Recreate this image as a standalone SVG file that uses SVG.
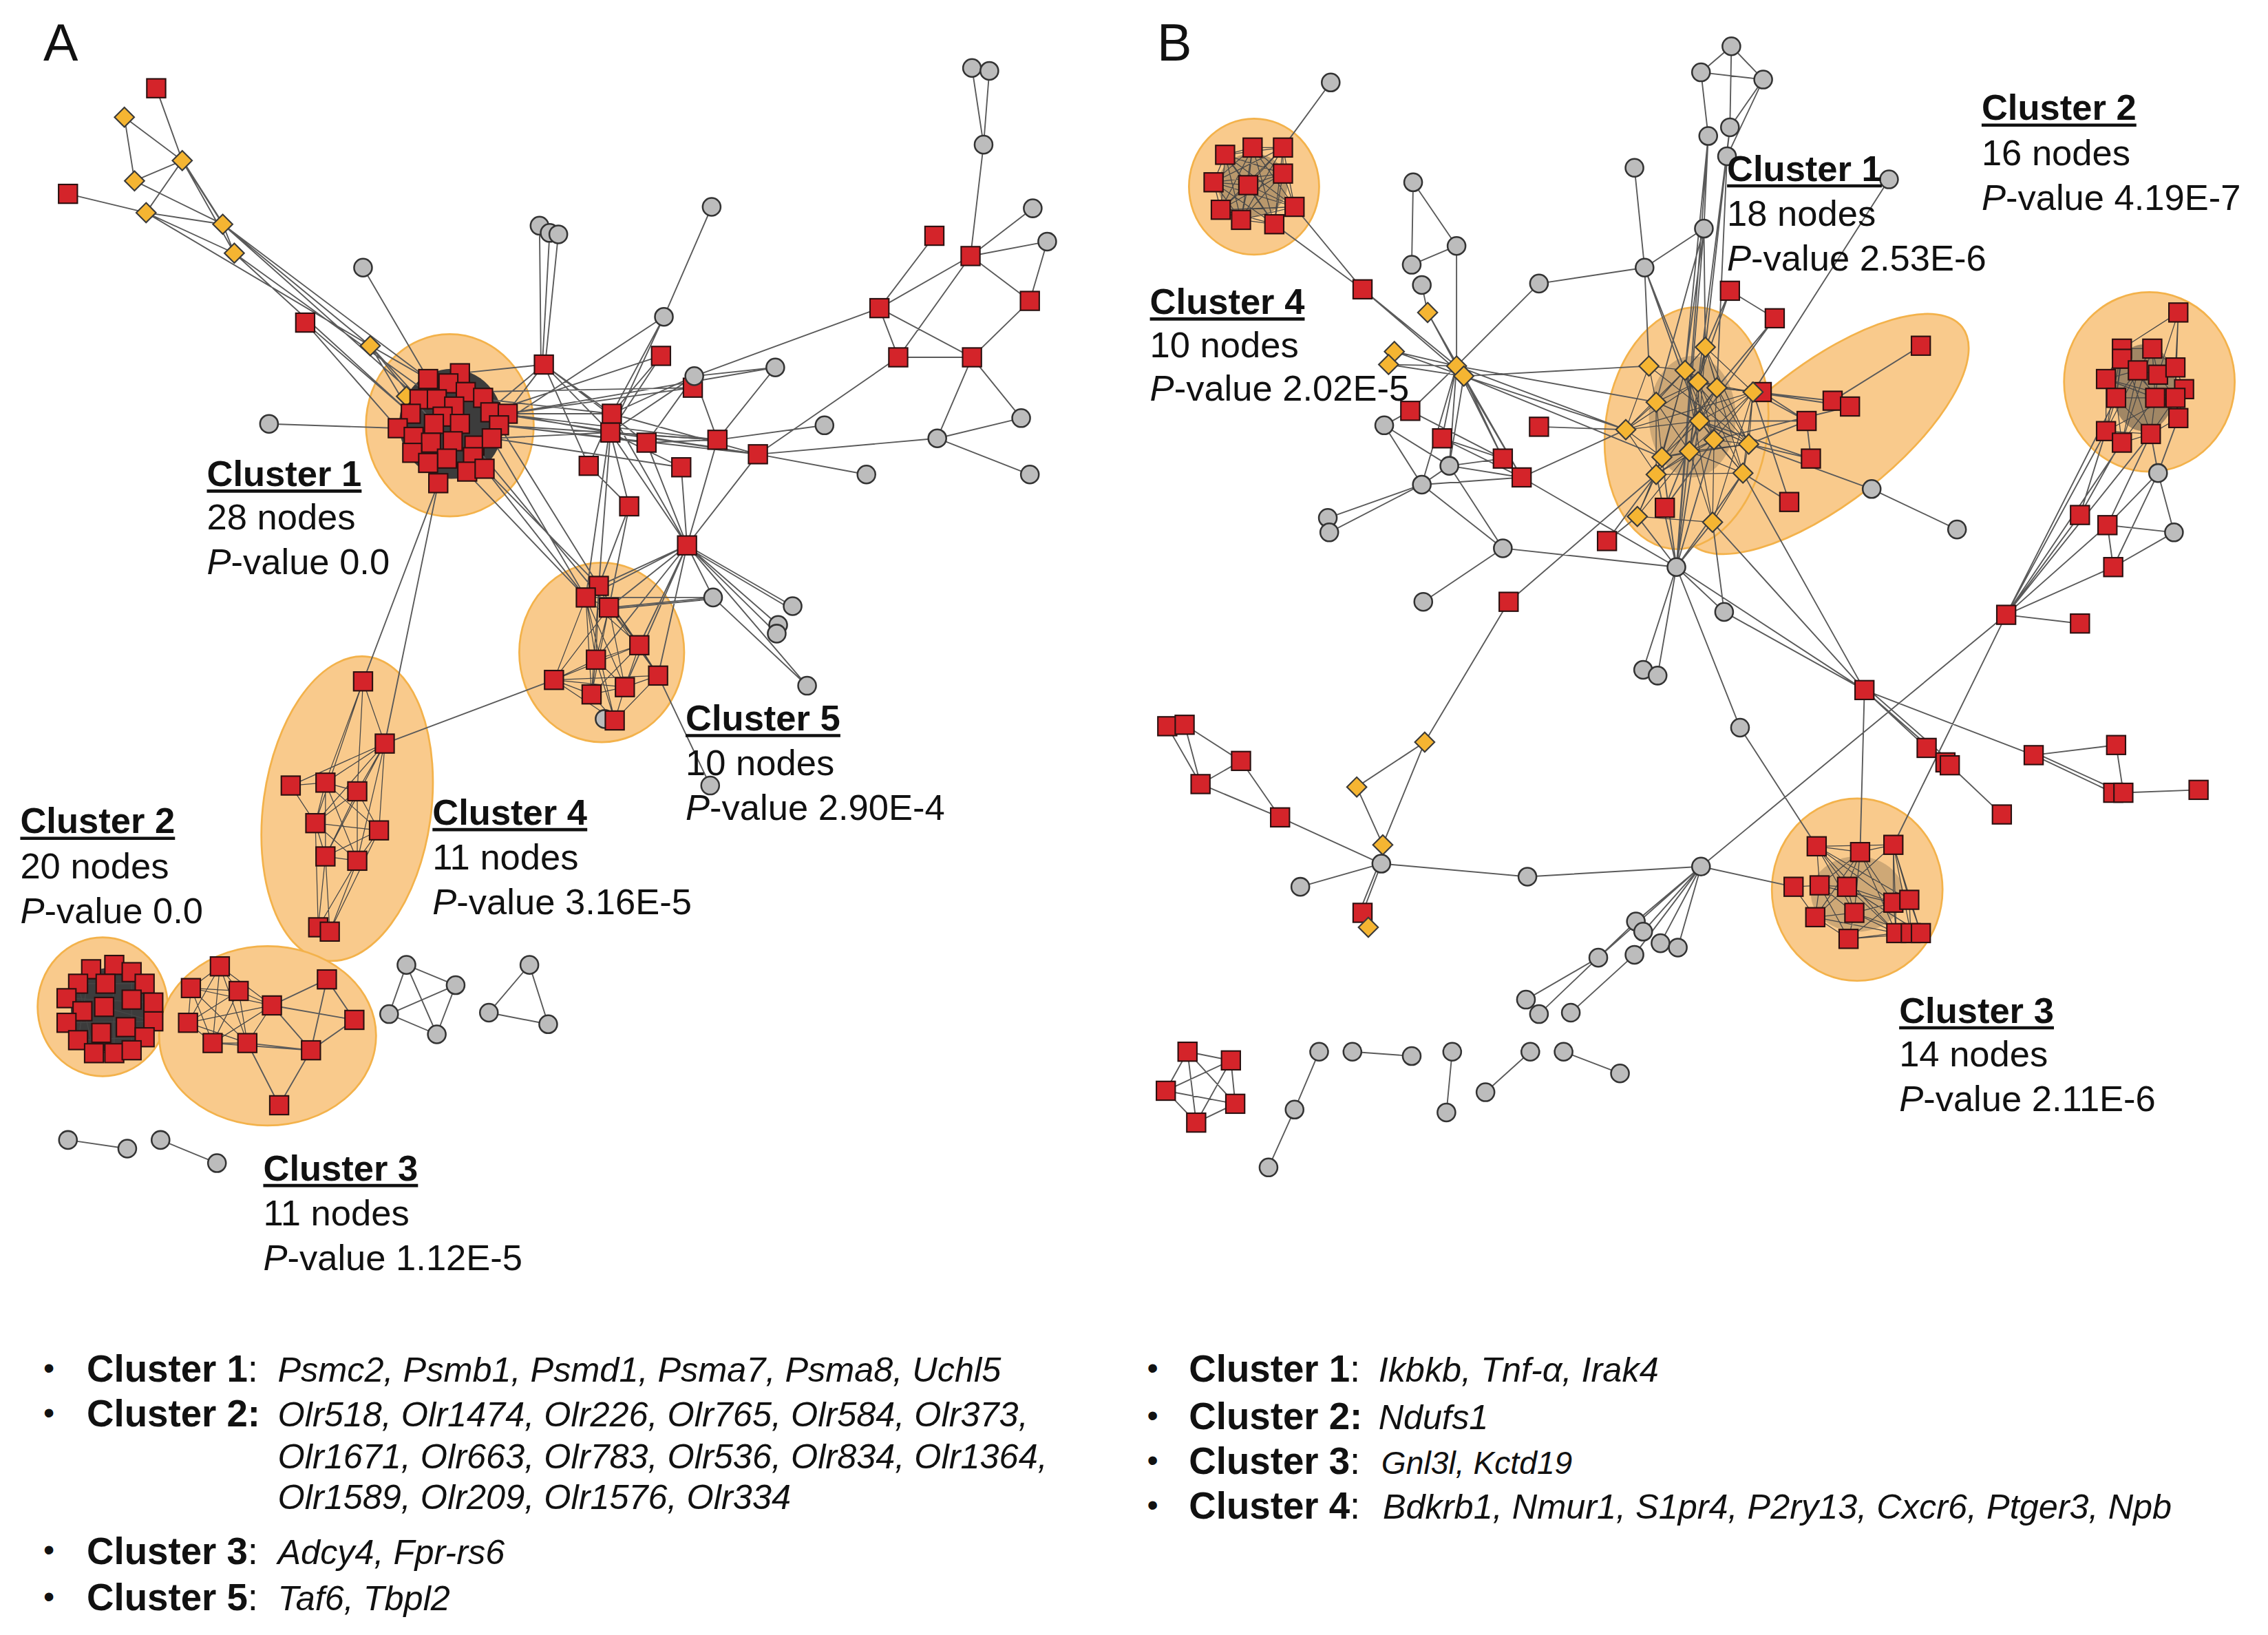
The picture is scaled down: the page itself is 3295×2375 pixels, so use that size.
<svg xmlns="http://www.w3.org/2000/svg" xmlns:xlink="http://www.w3.org/1999/xlink" width="3295" height="2375" viewBox="0 0 3295 2375">
<style>
.hl{fill:#f9ca8c;stroke:#f3b24b;stroke-width:1.3}
.e{stroke:#5a5a5a;stroke-width:0.9;fill:none;stroke-linecap:round}
.ed{stroke:#474747;stroke-width:0.6;fill:none}
.t{font-family:"Liberation Sans",Arial,sans-serif;font-size:25px;fill:#111}
.tb{font-family:"Liberation Sans",Arial,sans-serif;font-size:25px;font-weight:bold;fill:#111}
.ul{stroke:#111;stroke-width:2.2}
.lb{font-family:"Liberation Sans",Arial,sans-serif;font-size:26px;font-weight:bold;fill:#111}
.li{font-family:"Liberation Sans",Arial,sans-serif;font-size:24px;font-style:italic;fill:#111}
.bu{font-family:"Liberation Sans",Arial,sans-serif;font-size:22px;fill:#111}
</style>
<defs>
<rect id="s" x="-6.5" y="-6.5" width="13" height="13" fill="#d4242a" stroke="#2b1010" stroke-width="1"/>
<circle id="c" r="6.2" fill="#bcbcbc" stroke="#333" stroke-width="1.2"/>
<path id="d" d="M0,-6.8 L6.8,0 L0,6.8 L-6.8,0 Z" fill="#f5b532" stroke="#3a3a3a" stroke-width="1"/>
</defs>
<rect width="3295" height="2375" fill="#fff"/>
<g transform="scale(2.1014)">
<g id="hulls">
<ellipse class="hl" cx="311" cy="294" rx="58" ry="63"/>
<ellipse class="hl" cx="416" cy="451" rx="57" ry="62"/>
<ellipse class="hl" cx="240" cy="559" rx="58" ry="106" transform="rotate(8 240 559)"/>
<ellipse class="hl" cx="71" cy="696" rx="45" ry="48"/>
<ellipse class="hl" cx="185" cy="716" rx="75" ry="62"/>
<ellipse class="hl" cx="867" cy="129" rx="45" ry="47"/>
<ellipse class="hl" cx="1262" cy="300" rx="120" ry="48" transform="rotate(-38 1262 300)"/>
<ellipse class="hl" cx="1166" cy="296" rx="56" ry="84" transform="rotate(8 1166 296)"/>
<ellipse cx="1166" cy="296" rx="55" ry="83" transform="rotate(8 1166 296)" fill="#f9ca8c"/>
<ellipse class="hl" cx="1486" cy="264" rx="59" ry="62"/>
<ellipse class="hl" cx="1284" cy="615" rx="59" ry="63"/>
<ellipse cx="312" cy="293" rx="36" ry="38" fill="#3c3c3c"/>
<ellipse cx="76" cy="698" rx="27" ry="29" fill="#3c3c3c"/>
<ellipse cx="1482" cy="268" rx="22" ry="30" fill="#5a5045" opacity="0.55"/>
<ellipse cx="866" cy="128" rx="24" ry="22" fill="#6b5a44" opacity="0.45"/>
<ellipse cx="1170" cy="288" rx="30" ry="42" fill="#6b5a44" opacity="0.3"/>
<ellipse cx="1284" cy="618" rx="32" ry="26" fill="#6b5a44" opacity="0.3"/>
</g>
<g id="connectors">
<path class="e" d="M108,61L126,111M86,81L126,111M86,81L93,125M93,125L126,111M126,111L101,147M126,111L154,155M127,112L155,156M93,125L154,155M47,134L101,147M101,147L154,155M101,147L162,175M154,155L162,175M126,111L162,175M154,155L296,262M154,155L290,276M162,175L302,276M162,175L284,286M101,147L256,239M154,155L256,239M256,239L296,262M256,239L290,276M256,239L300,293M256,239L284,286M211,223L284,286M211,223L275,296M251,185L296,262M186,293L275,296M373,156L374,251M380,161L375,251M386,162L377,251M376,252L338,284M376,252L350,286M376,252L318,258M376,252L423,286M376,252L422,299M376,252L447,306M376,252L407,322M350,286L423,286M350,286L422,299M345,294L447,306M338,285L496,304M345,294L524,314M350,286L479,268M338,285L457,246M340,303L471,323M345,294L459,219M350,286L536,254M340,303L422,299M335,276L423,286M338,285L524,314M345,294L496,304M322,271L479,268"/>
<path class="e" d="M672,47L680,100M684,49L680,100M680,100L671,177M671,177L714,144M671,177L724,167M724,167L712,208M671,177L712,208M671,177L608,213M646,163L608,213M608,213L621,247M608,213L672,247M671,177L621,247M621,247L672,247M712,208L672,247M672,247L648,303M672,247L706,289M648,303L706,289M648,303L712,328M648,303L524,314M621,247L524,314M608,213L480,260M480,260L536,254M536,254L496,304M492,143L459,219M459,219L423,286M459,219L422,299M457,246L423,286M457,246L422,299M480,260L423,286M480,260L422,299M480,260L447,306M480,260L496,304M496,304L570,294M524,314L599,328M423,286L524,314M422,299L524,314M422,299L496,304M447,306L496,304M423,286L407,322M422,299L435,350M422,299L471,323M447,306L475,377M422,299L475,377M407,322L435,350M471,323L475,377M496,304L475,377M524,314L475,377M423,286L475,377M422,299L414,405M423,286L405,413M435,350L414,405M435,350L421,420M475,377L414,405M475,377L405,413M475,377L421,420M475,377L442,446M475,377L412,456M475,377L455,467M475,377L432,475M475,377L493,413M475,377L548,419M476,379L547,421M475,377L538,432M475,377L537,438M475,377L558,474M493,413L405,413M493,413L421,420M493,414L421,421M493,413L558,474M455,467L491,543M322,326L405,413M335,324L405,413M335,324L414,405M340,303L405,413M328,308L421,420M345,294L414,405M303,334L251,471M303,334L266,514M266,514L383,470"/>
<path class="ed" d="M414,405L405,413M414,405L421,420M405,413L421,420M414,405L442,446M405,413L442,446M421,420L442,446M414,405L412,456M405,413L412,456M421,420L412,456M405,413L383,470M421,420L383,470M412,456L383,470M414,405L455,467M421,420L455,467M442,446L455,467M405,413L432,475M421,420L432,475M442,446L432,475M412,456L432,475M383,470L432,475M455,467L432,475M405,413L409,480M421,420L409,480M412,456L409,480M383,470L409,480M432,475L409,480M405,413L425,498M412,456L425,498M432,475L425,498M409,480L425,498M383,470L455,467M442,446L412,456M442,446L409,480M455,467L425,498M383,470L425,498M414,405L409,480M383,470L442,446"/>
<path class="ed" d="M251,471L266,514M251,471L225,541M251,471L247,547M251,471L218,569M266,514L201,543M266,514L225,541M266,514L247,547M266,514L218,569M266,514L262,574M266,514L225,592M266,514L247,595M201,543L225,541M201,543L218,569M225,541L247,547M225,541L218,569M225,541L262,574M225,541L225,592M225,541L247,595M247,547L218,569M247,547L262,574M247,547L225,592M247,547L247,595M218,569L262,574M218,569L225,592M218,569L247,595M262,574L225,592M262,574L247,595M225,592L247,595M225,592L220,641M225,592L228,644M247,595L220,641M247,595L228,644M218,569L220,641M262,574L228,644M220,641L228,644"/>
<path class="ed" d="M152,668L132,683M152,668L165,685M152,668L188,695M152,668L130,707M152,668L147,721M152,668L171,721M132,683L165,685M132,683L188,695M132,683L130,707M132,683L147,721M132,683L171,721M165,685L188,695M165,685L130,707M165,685L147,721M165,685L171,721M188,695L130,707M188,695L147,721M188,695L171,721M130,707L147,721M130,707L171,721M147,721L171,721"/>
<path class="e" d="M188,695L226,677M188,695L245,705M188,695L215,726M226,677L245,705M226,677L215,726M245,705L215,726M171,721L215,726M147,721L215,726M215,726L193,764M171,721L193,764M281,667L315,681M281,667L269,701M281,667L302,715M315,681L269,701M315,681L302,715M269,701L302,715M366,667L338,700M366,667L379,708M338,700L379,708M47,788L88,794M111,788L150,804"/>
<path class="ed" d="M62,670L90,672M54,680L100,680M46,690L106,693M46,707L106,706M54,719L100,717M65,728L91,726M62,670L54,719M78,667L79,728M91,672L91,726M100,680L100,717M54,680L65,728M72,696L106,706"/>
<path class="e" d="M920,57L887,102M895,143L942,200M881,155L942,200M942,200L1007,253M942,200L1012,260M977,126L976,183M977,126L1007,170M976,183L1007,170M1007,170L1007,253M983,197L987,216M987,216L1007,253M987,216L1012,260M964,243L1007,253M960,252L1007,253M964,243L1012,260M960,252L1012,260M1064,196L1007,253M1064,196L1137,185M1130,116L1137,185M1137,185L1178,158M1137,185L1140,253M1137,185L1165,256M1137,185L1175,291M1007,253L1124,297M1012,260L1124,297M1007,253L1145,278M1012,260L1140,253M1012,260L1149,316M1007,253L975,284M1007,253L997,303M1007,253L1039,317M1012,260L1052,330M1007,253L1002,322M1012,260L1002,322M1007,253L983,335M1012,260L1039,317M1007,253L1052,330M975,284L957,294M957,294L1002,322M957,294L983,335M975,284L1039,317M997,303L1039,317M997,303L1052,330M1002,322L1039,317M1002,322L1052,330M983,335L1052,330M983,335L918,358M983,335L919,368M983,335L1039,379M1002,322L1039,379M1039,379L1159,392M1039,379L984,416M1052,330L1124,297M1052,330L1159,392M983,335L1002,322M1064,295L1124,297M1043,416L1145,328M1043,416L985,513M1111,374L1132,357M1111,374L1145,328M1151,351L1175,291M1151,351L1185,304"/>
<path class="e" d="M1197,32L1176,50M1197,32L1219,55M1176,50L1219,55M1197,32L1196,88M1176,50L1181,94M1219,55L1196,88M1219,55L1194,108M1181,94L1178,158M1181,94L1159,392M1196,88L1179,240M1194,108L1187,268M1181,94L1165,256M1196,88L1174,264M1306,124L1212,271M1178,158L1165,256M1178,158L1179,240M1178,158L1145,278M1178,158L1159,392M1196,201L1227,220M1196,201L1179,240M1196,201L1174,264M1227,220L1187,268M1227,220L1175,291M1328,239L1267,277M1267,277L1212,271M1279,281L1212,271M1249,291L1212,271M1249,291L1209,307M1252,317L1249,291M1252,317L1209,307M1252,317L1175,291M1237,347L1205,327M1237,347L1212,271M1279,281L1185,304M1267,277L1187,268M1218,271L1249,291M1249,291L1175,291M1294,338L1353,366M1294,338L1209,307"/>
<path class="e" d="M1159,392L1184,361M1159,392L1145,328M1159,392L1168,312M1159,392L1149,316M1159,392L1132,357M1159,392L1205,327M1159,392L1175,291M1159,392L1136,463M1159,392L1146,467M1159,392L1192,423M1159,392L1203,503M1159,392L1289,477M1159,392L1185,304M1192,423L1184,361M1192,423L1289,477M1203,503L1256,585M1205,327L1289,477M1184,361L1289,477M1289,477L1286,589M1289,477L1332,517M1289,477L1347,528M1290,475L1348,526M1289,477L1406,522M1347,528L1384,563M1406,522L1463,515M1406,522L1461,548M1406,520L1463,546M1463,515L1468,548M1468,548L1520,546M1387,425L1438,431M1387,425L1309,584M1387,425L1176,599M1387,425L1438,356M1387,425L1457,363M1387,425L1461,392M1387,425L1456,298M1387,425L1467,306M1387,425L1463,275M1387,425L1487,300M1438,356L1456,298M1457,363L1487,300M1457,363L1492,327M1461,392L1492,327M1492,327L1503,368M1503,368L1457,363M1503,368L1461,392M1492,327L1487,300M1492,327L1506,289M1461,392L1457,363M1438,356L1466,306"/>
<path class="e" d="M1176,599L1240,613M1176,599L1056,606M1056,606L955,597M955,597L899,613M955,597L956,584M956,584L938,544M956,584L985,513M938,544L985,513M955,597L885,565M955,597L942,631M953,598L940,630M885,565L830,542M885,565L858,526M858,526L830,542M858,526L819,501M830,542L807,502M830,542L819,501M1176,599L1131,637M1176,599L1136,644M1176,599L1148,652M1176,599L1160,655M1176,599L1105,662M1176,599L1130,660M1105,662L1055,691M1131,637L1064,701M1130,660L1086,700M912,727L895,767M895,767L877,807M935,727L976,730M1004,727L1000,769M1058,727L1027,755M1081,727L1120,742M821,727L851,733M821,727L806,754M821,727L854,763M821,727L827,776M851,733L806,754M851,733L854,763M851,733L827,776M806,754L854,763M806,754L827,776M854,763L827,776"/>
<path class="ed" d="M1179,240L1165,256M1179,240L1174,264M1179,240L1187,268M1179,240L1212,271M1179,240L1175,291M1179,240L1209,307M1179,240L1168,312M1179,240L1145,278M1179,240L1205,327M1165,256L1174,264M1165,256L1187,268M1165,256L1145,278M1165,256L1175,291M1165,256L1185,304M1165,256L1149,316M1165,256L1145,328M1165,256L1140,253M1165,256L1124,297M1165,256L1209,307M1174,264L1187,268M1174,264L1212,271M1174,264L1145,278M1174,264L1175,291M1174,264L1185,304M1174,264L1168,312M1174,264L1205,327M1174,264L1124,297M1187,268L1212,271M1187,268L1175,291M1187,268L1185,304M1187,268L1209,307M1187,268L1149,316M1187,268L1145,328M1212,271L1175,291M1212,271L1185,304M1212,271L1209,307M1212,271L1168,312M1212,271L1205,327M1212,271L1124,297M1145,278L1175,291M1145,278L1168,312M1145,278L1149,316M1145,278L1145,328M1145,278L1140,253M1145,278L1124,297M1145,278L1209,307M1175,291L1185,304M1175,291L1209,307M1175,291L1168,312M1175,291L1149,316M1175,291L1205,327M1175,291L1124,297M1185,304L1209,307M1185,304L1168,312M1185,304L1205,327M1185,304L1145,328M1185,304L1184,361M1209,307L1168,312M1209,307L1205,327M1209,307L1149,316M1168,312L1149,316M1168,312L1205,327M1168,312L1145,328M1168,312L1184,361M1168,312L1132,357M1149,316L1145,328M1149,316L1124,297M1149,316L1132,357M1205,327L1145,328M1205,327L1184,361M1145,328L1132,357M1140,253L1124,297M1124,297L1145,328M1184,361L1132,357M1165,256L1184,361M1212,271L1184,361M1140,253L1209,307"/>
<path class="ed" d="M1506,216L1467,241M1506,216L1504,254M1506,216L1504,275M1506,216L1492,259M1467,241L1488,241M1467,241L1478,256M1467,241L1456,262M1467,241L1463,275M1467,241L1456,298M1488,241L1478,256M1488,241L1492,259M1488,241L1504,254M1488,241L1490,275M1467,248L1456,262M1467,248L1463,275M1478,256L1492,259M1478,256L1456,262M1478,256L1463,275M1478,256L1490,275M1478,256L1456,298M1478,256L1467,306M1492,259L1504,254M1492,259L1490,275M1492,259L1504,275M1492,259L1487,300M1504,254L1510,269M1504,254L1504,275M1456,262L1463,275M1456,262L1490,275M1456,262L1456,298M1510,269L1504,275M1510,269L1506,289M1463,275L1490,275M1463,275L1456,298M1463,275L1467,306M1463,275L1487,300M1490,275L1504,275M1490,275L1487,300M1490,275L1467,306M1504,275L1506,289M1504,275L1487,300M1506,289L1487,300M1456,298L1467,306M1467,306L1487,300M1456,298L1487,300M1456,262L1504,275M1467,241L1487,300M1488,241L1467,306M1504,254L1506,289M1467,248L1506,289M1510,269L1456,298"/>
<path class="ed" d="M1256,585L1286,589M1286,589L1309,584M1256,585L1309,584M1256,585L1258,612M1256,585L1277,613M1256,585L1309,624M1256,585L1282,631M1286,589L1258,612M1286,589L1277,613M1286,589L1309,624M1286,589L1255,634M1286,589L1282,631M1286,589L1311,645M1309,584L1309,624M1309,584L1320,622M1309,584L1311,645M1309,584L1321,645M1309,584L1328,645M1309,584L1277,613M1240,613L1258,612M1258,612L1277,613M1258,612L1255,634M1258,612L1282,631M1258,612L1278,649M1258,612L1309,624M1277,613L1309,624M1277,613L1282,631M1277,613L1255,634M1277,613L1311,645M1309,624L1320,622M1309,624L1282,631M1309,624L1311,645M1309,624L1278,649M1320,622L1328,645M1320,622L1321,645M1255,634L1282,631M1255,634L1278,649M1282,631L1311,645M1282,631L1278,649M1311,645L1321,645M1311,645L1278,649M1321,645L1328,645M1328,645L1278,649M1256,585L1311,645M1240,613L1255,634M1277,613L1328,645M1255,634L1311,645M1282,631L1321,645M1256,585L1320,622"/>
<path class="ed" d="M847,107L866,102M847,107L887,102M847,107L839,126M847,107L863,128M847,107L887,120M847,107L844,145M847,107L858,152M847,107L881,155M847,107L895,143M866,102L887,102M866,102L839,126M866,102L863,128M866,102L887,120M866,102L844,145M866,102L858,152M866,102L881,155M866,102L895,143M887,102L839,126M887,102L863,128M887,102L887,120M887,102L844,145M887,102L858,152M887,102L881,155M887,102L895,143M839,126L863,128M839,126L887,120M839,126L844,145M839,126L858,152M839,126L881,155M839,126L895,143M863,128L887,120M863,128L844,145M863,128L858,152M863,128L881,155M863,128L895,143M887,120L844,145M887,120L858,152M887,120L881,155M887,120L895,143M844,145L858,152M844,145L881,155M844,145L895,143M858,152L881,155M858,152L895,143M881,155L895,143"/>
</g>
<g id="nodesA">
<use id="a1" href="#s" x="108" y="61"/><use id="a2" href="#s" x="47" y="134"/><use id="a3" href="#s" x="211" y="223"/><use id="a4" href="#s" x="376" y="252"/>
<use id="a5" href="#d" x="86" y="81"/><use id="a6" href="#d" x="126" y="111"/><use id="a7" href="#d" x="93" y="125"/><use id="a8" href="#d" x="101" y="147"/><use id="a9" href="#d" x="154" y="155"/><use id="a10" href="#d" x="162" y="175"/><use id="a11" href="#d" x="256" y="239"/><use id="a12" href="#d" x="281" y="274"/>
<g id="clusterA1">
<use href="#s" x="296" y="262"/><use href="#s" x="318" y="258"/><use href="#s" x="310" y="265"/><use href="#s" x="290" y="276"/><use href="#s" x="302" y="276"/><use href="#s" x="322" y="271"/><use href="#s" x="334" y="275"/><use href="#s" x="314" y="281"/><use href="#s" x="284" y="286"/><use href="#s" x="339" y="285"/><use href="#s" x="351" y="286"/><use href="#s" x="306" y="288"/><use href="#s" x="300" y="293"/><use href="#s" x="318" y="293"/><use href="#s" x="345" y="294"/><use href="#s" x="275" y="296"/><use href="#s" x="286" y="302"/><use href="#s" x="298" y="306"/><use href="#s" x="313" y="305"/><use href="#s" x="328" y="308"/><use href="#s" x="340" y="303"/><use href="#s" x="285" y="313"/><use href="#s" x="327" y="316"/><use href="#s" x="309" y="317"/><use href="#s" x="296" y="320"/><use href="#s" x="323" y="326"/><use href="#s" x="335" y="324"/><use href="#s" x="303" y="334"/>
</g>
<g id="rightA">
<use href="#s" x="646" y="163"/><use href="#s" x="671" y="177"/><use href="#s" x="712" y="208"/><use href="#s" x="608" y="213"/><use href="#s" x="457" y="246"/><use href="#s" x="621" y="247"/><use href="#s" x="672" y="247"/><use href="#s" x="479" y="268"/><use href="#s" x="423" y="286"/><use href="#s" x="422" y="299"/><use href="#s" x="447" y="306"/><use href="#s" x="496" y="304"/><use href="#s" x="524" y="314"/><use href="#s" x="407" y="322"/><use href="#s" x="471" y="323"/><use href="#s" x="435" y="350"/><use href="#s" x="475" y="377"/>
<use href="#c" x="251" y="185"/><use href="#c" x="186" y="293"/><use href="#c" x="373" y="156"/><use href="#c" x="380" y="161"/><use href="#c" x="386" y="162"/><use href="#c" x="672" y="47"/><use href="#c" x="684" y="49"/><use href="#c" x="680" y="100"/><use href="#c" x="492" y="143"/><use href="#c" x="714" y="144"/><use href="#c" x="724" y="167"/><use href="#c" x="459" y="219"/><use href="#c" x="536" y="254"/><use href="#c" x="480" y="260"/><use href="#c" x="570" y="294"/><use href="#c" x="706" y="289"/><use href="#c" x="648" y="303"/><use href="#c" x="599" y="328"/><use href="#c" x="712" y="328"/><use href="#c" x="493" y="413"/><use href="#c" x="548" y="419"/><use href="#c" x="538" y="432"/><use href="#c" x="537" y="438"/><use href="#c" x="558" y="474"/><use href="#c" x="491" y="543"/><use href="#c" x="418" y="497"/>
</g>
<g id="clusterA5">
<use href="#s" x="414" y="405"/><use href="#s" x="405" y="413"/><use href="#s" x="421" y="420"/><use href="#s" x="442" y="446"/><use href="#s" x="412" y="456"/><use href="#s" x="383" y="470"/><use href="#s" x="455" y="467"/><use href="#s" x="432" y="475"/><use href="#s" x="409" y="480"/><use href="#s" x="425" y="498"/>
</g>
<g id="clusterA4">
<use href="#s" x="251" y="471"/><use href="#s" x="266" y="514"/><use href="#s" x="201" y="543"/><use href="#s" x="225" y="541"/><use href="#s" x="247" y="547"/><use href="#s" x="218" y="569"/><use href="#s" x="262" y="574"/><use href="#s" x="225" y="592"/><use href="#s" x="247" y="595"/><use href="#s" x="220" y="641"/><use href="#s" x="228" y="644"/>
</g>
<g id="clusterA2">
<use href="#s" x="63" y="670"/><use href="#s" x="79" y="667"/><use href="#s" x="91" y="672"/><use href="#s" x="54" y="680"/><use href="#s" x="73" y="680"/><use href="#s" x="100" y="680"/><use href="#s" x="46" y="690"/><use href="#s" x="91" y="691"/><use href="#s" x="106" y="693"/><use href="#s" x="57" y="699"/><use href="#s" x="72" y="696"/><use href="#s" x="106" y="706"/><use href="#s" x="46" y="707"/><use href="#s" x="87" y="710"/><use href="#s" x="70" y="714"/><use href="#s" x="100" y="717"/><use href="#s" x="54" y="719"/><use href="#s" x="65" y="728"/><use href="#s" x="79" y="728"/><use href="#s" x="91" y="726"/>
</g>
<g id="clusterA3">
<use href="#s" x="152" y="668"/><use href="#s" x="132" y="683"/><use href="#s" x="165" y="685"/><use href="#s" x="188" y="695"/><use href="#s" x="130" y="707"/><use href="#s" x="226" y="677"/><use href="#s" x="245" y="705"/><use href="#s" x="147" y="721"/><use href="#s" x="171" y="721"/><use href="#s" x="215" y="726"/><use href="#s" x="193" y="764"/>
</g>
<g id="smallA">
<use href="#c" x="281" y="667"/><use href="#c" x="315" y="681"/><use href="#c" x="269" y="701"/><use href="#c" x="302" y="715"/><use href="#c" x="366" y="667"/><use href="#c" x="338" y="700"/><use href="#c" x="379" y="708"/><use href="#c" x="47" y="788"/><use href="#c" x="88" y="794"/><use href="#c" x="111" y="788"/><use href="#c" x="150" y="804"/>
</g>
</g>
<g id="nodesB">
<g id="clusterB4">
<use href="#s" x="847" y="107"/><use href="#s" x="866" y="102"/><use href="#s" x="887" y="102"/><use href="#s" x="839" y="126"/><use href="#s" x="863" y="128"/><use href="#s" x="887" y="120"/><use href="#s" x="844" y="145"/><use href="#s" x="858" y="152"/><use href="#s" x="881" y="155"/><use href="#s" x="895" y="143"/>
</g>
<g id="redB">
<use href="#s" x="942" y="200"/><use href="#s" x="975" y="284"/><use href="#s" x="997" y="303"/><use href="#s" x="1064" y="295"/><use href="#s" x="1039" y="317"/><use href="#s" x="1052" y="330"/><use href="#s" x="1111" y="374"/><use href="#s" x="1151" y="351"/><use href="#s" x="1043" y="416"/><use href="#s" x="1196" y="201"/><use href="#s" x="1227" y="220"/><use href="#s" x="1328" y="239"/><use href="#s" x="1218" y="271"/><use href="#s" x="1267" y="277"/><use href="#s" x="1279" y="281"/><use href="#s" x="1249" y="291"/><use href="#s" x="1252" y="317"/><use href="#s" x="1237" y="347"/>
<use href="#s" x="1438" y="356"/><use href="#s" x="1457" y="363"/><use href="#s" x="1461" y="392"/><use href="#s" x="1387" y="425"/><use href="#s" x="1438" y="431"/><use href="#s" x="1289" y="477"/><use href="#s" x="1332" y="517"/><use href="#s" x="1345" y="527"/><use href="#s" x="1348" y="529"/><use href="#s" x="1406" y="522"/><use href="#s" x="1463" y="515"/><use href="#s" x="1461" y="548"/><use href="#s" x="1468" y="548"/><use href="#s" x="1520" y="546"/><use href="#s" x="1384" y="563"/>
<use href="#s" x="807" y="502"/><use href="#s" x="819" y="501"/><use href="#s" x="858" y="526"/><use href="#s" x="830" y="542"/><use href="#s" x="885" y="565"/><use href="#s" x="942" y="631"/>
<use href="#s" x="821" y="727"/><use href="#s" x="851" y="733"/><use href="#s" x="806" y="754"/><use href="#s" x="854" y="763"/><use href="#s" x="827" y="776"/>
</g>
<g id="clusterB2">
<use href="#s" x="1506" y="216"/><use href="#s" x="1467" y="241"/><use href="#s" x="1488" y="241"/><use href="#s" x="1467" y="248"/><use href="#s" x="1478" y="256"/><use href="#s" x="1492" y="259"/><use href="#s" x="1504" y="254"/><use href="#s" x="1456" y="262"/><use href="#s" x="1510" y="269"/><use href="#s" x="1463" y="275"/><use href="#s" x="1490" y="275"/><use href="#s" x="1504" y="275"/><use href="#s" x="1506" y="289"/><use href="#s" x="1456" y="298"/><use href="#s" x="1467" y="306"/><use href="#s" x="1487" y="300"/>
</g>
<g id="clusterB3">
<use href="#s" x="1256" y="585"/><use href="#s" x="1286" y="589"/><use href="#s" x="1309" y="584"/><use href="#s" x="1240" y="613"/><use href="#s" x="1258" y="612"/><use href="#s" x="1277" y="613"/><use href="#s" x="1309" y="624"/><use href="#s" x="1320" y="622"/><use href="#s" x="1255" y="634"/><use href="#s" x="1282" y="631"/><use href="#s" x="1311" y="645"/><use href="#s" x="1321" y="645"/><use href="#s" x="1328" y="645"/><use href="#s" x="1278" y="649"/>
</g>
<g id="grayB">
<use href="#c" x="920" y="57"/><use href="#c" x="977" y="126"/><use href="#c" x="1007" y="170"/><use href="#c" x="976" y="183"/><use href="#c" x="983" y="197"/><use href="#c" x="1064" y="196"/><use href="#c" x="1130" y="116"/><use href="#c" x="1137" y="185"/><use href="#c" x="1178" y="158"/><use href="#c" x="957" y="294"/><use href="#c" x="1002" y="322"/><use href="#c" x="983" y="335"/><use href="#c" x="918" y="358"/><use href="#c" x="919" y="368"/><use href="#c" x="1039" y="379"/><use href="#c" x="984" y="416"/><use href="#c" x="1197" y="32"/><use href="#c" x="1176" y="50"/><use href="#c" x="1219" y="55"/><use href="#c" x="1181" y="94"/><use href="#c" x="1196" y="88"/><use href="#c" x="1194" y="108"/><use href="#c" x="1306" y="124"/><use href="#c" x="1159" y="392"/><use href="#c" x="1192" y="423"/><use href="#c" x="1294" y="338"/><use href="#c" x="1353" y="366"/><use href="#c" x="1136" y="463"/><use href="#c" x="1146" y="467"/><use href="#c" x="1203" y="503"/><use href="#c" x="1492" y="327"/><use href="#c" x="1503" y="368"/><use href="#c" x="955" y="597"/><use href="#c" x="899" y="613"/><use href="#c" x="1056" y="606"/><use href="#c" x="1176" y="599"/><use href="#c" x="1131" y="637"/><use href="#c" x="1136" y="644"/><use href="#c" x="1148" y="652"/><use href="#c" x="1160" y="655"/><use href="#c" x="1105" y="662"/><use href="#c" x="1130" y="660"/><use href="#c" x="1055" y="691"/><use href="#c" x="1064" y="701"/><use href="#c" x="1086" y="700"/>
<use href="#c" x="912" y="727"/><use href="#c" x="895" y="767"/><use href="#c" x="877" y="807"/><use href="#c" x="935" y="727"/><use href="#c" x="976" y="730"/><use href="#c" x="1004" y="727"/><use href="#c" x="1000" y="769"/><use href="#c" x="1058" y="727"/><use href="#c" x="1027" y="755"/><use href="#c" x="1081" y="727"/><use href="#c" x="1120" y="742"/>
</g>
<g id="diamondB">
<use href="#d" x="987" y="216"/><use href="#d" x="964" y="243"/><use href="#d" x="960" y="252"/><use href="#d" x="1007" y="253"/><use href="#d" x="1012" y="260"/><use href="#d" x="985" y="513"/><use href="#d" x="938" y="544"/><use href="#d" x="956" y="584"/><use href="#d" x="946" y="641"/>
<use href="#d" x="1179" y="240"/><use href="#d" x="1165" y="256"/><use href="#d" x="1174" y="264"/><use href="#d" x="1187" y="268"/><use href="#d" x="1212" y="271"/><use href="#d" x="1145" y="278"/><use href="#d" x="1175" y="291"/><use href="#d" x="1185" y="304"/><use href="#d" x="1209" y="307"/><use href="#d" x="1168" y="312"/><use href="#d" x="1149" y="316"/><use href="#d" x="1205" y="327"/><use href="#d" x="1145" y="328"/><use href="#d" x="1140" y="253"/><use href="#d" x="1124" y="297"/><use href="#d" x="1184" y="361"/><use href="#d" x="1132" y="357"/>
</g>
</g>
<g id="labels">
<text class="t" x="30" y="42" style="font-size:36px">A</text>
<text class="t" x="800" y="42" style="font-size:36px">B</text>
<text class="tb" x="143" y="336">Cluster 1</text><line class="ul" x1="143" y1="339.5" x2="250" y2="339.5"/>
<text class="t" x="143" y="366">28 nodes</text>
<text class="t" x="143" y="397"><tspan font-style="italic">P</tspan>-value 0.0</text>
<text class="tb" x="474" y="505">Cluster 5</text><line class="ul" x1="474" y1="508.5" x2="581" y2="508.5"/>
<text class="t" x="474" y="536">10 nodes</text>
<text class="t" x="474" y="567"><tspan font-style="italic">P</tspan>-value 2.90E-4</text>
<text class="tb" x="299" y="570">Cluster 4</text><line class="ul" x1="299" y1="573.5" x2="406" y2="573.5"/>
<text class="t" x="299" y="601">11 nodes</text>
<text class="t" x="299" y="632"><tspan font-style="italic">P</tspan>-value 3.16E-5</text>
<text class="tb" x="14" y="576">Cluster 2</text><line class="ul" x1="14" y1="579.5" x2="121" y2="579.5"/>
<text class="t" x="14" y="607">20 nodes</text>
<text class="t" x="14" y="638"><tspan font-style="italic">P</tspan>-value 0.0</text>
<text class="tb" x="182" y="816">Cluster 3</text><line class="ul" x1="182" y1="819.5" x2="289" y2="819.5"/>
<text class="t" x="182" y="847">11 nodes</text>
<text class="t" x="182" y="878"><tspan font-style="italic">P</tspan>-value 1.12E-5</text>
<text class="tb" x="795" y="217">Cluster 4</text><line class="ul" x1="795" y1="220.5" x2="902" y2="220.5"/>
<text class="t" x="795" y="247">10 nodes</text>
<text class="t" x="795" y="277"><tspan font-style="italic">P</tspan>-value 2.02E-5</text>
<text class="tb" x="1194" y="125">Cluster 1</text><line class="ul" x1="1194" y1="128.5" x2="1301" y2="128.5"/>
<text class="t" x="1194" y="156">18 nodes</text>
<text class="t" x="1194" y="187"><tspan font-style="italic">P</tspan>-value 2.53E-6</text>
<text class="tb" x="1370" y="83">Cluster 2</text><line class="ul" x1="1370" y1="86.5" x2="1477" y2="86.5"/>
<text class="t" x="1370" y="114">16 nodes</text>
<text class="t" x="1370" y="145"><tspan font-style="italic">P</tspan>-value 4.19E-7</text>
<text class="tb" x="1313" y="707">Cluster 3</text><line class="ul" x1="1313" y1="710.5" x2="1420" y2="710.5"/>
<text class="t" x="1313" y="737">14 nodes</text>
<text class="t" x="1313" y="768"><tspan font-style="italic">P</tspan>-value 2.11E-6</text>
</g>
<g id="legendA">
<text class="bu" x="30" y="953">•</text><text class="lb" x="60" y="955">Cluster 1<tspan font-weight="normal">:</tspan></text><text class="li" x="192" y="955">Psmc2, Psmb1, Psmd1, Psma7, Psma8, Uchl5</text>
<text class="bu" x="30" y="984">•</text><text class="lb" x="60" y="986">Cluster 2:</text><text class="li" x="192" y="986">Olr518, Olr1474, Olr226, Olr765, Olr584, Olr373,</text>
<text class="li" x="192" y="1015">Olr1671, Olr663, Olr783, Olr536, Olr834, Olr1364,</text>
<text class="li" x="192" y="1043">Olr1589, Olr209, Olr1576, Olr334</text>
<text class="bu" x="30" y="1079">•</text><text class="lb" x="60" y="1081">Cluster 3<tspan font-weight="normal">:</tspan></text><text class="li" x="192" y="1081">Adcy4, Fpr-rs6</text>
<text class="bu" x="30" y="1111">•</text><text class="lb" x="60" y="1113">Cluster 5<tspan font-weight="normal">:</tspan></text><text class="li" x="192" y="1113">Taf6, Tbpl2</text>
</g>
<g id="legendB">
<text class="bu" x="793" y="953">•</text><text class="lb" x="822" y="955">Cluster 1<tspan font-weight="normal">:</tspan></text><text class="li" x="953" y="955">Ikbkb, Tnf-α, Irak4</text>
<text class="bu" x="793" y="986">•</text><text class="lb" x="822" y="988">Cluster 2:</text><text class="li" x="953" y="988">Ndufs1</text>
<text class="bu" x="793" y="1017">•</text><text class="lb" x="822" y="1019">Cluster 3<tspan font-weight="normal">:</tspan></text><text class="li" x="955" y="1019" style="font-size:22px">Gnl3l, Kctd19</text>
<text class="bu" x="793" y="1048">•</text><text class="lb" x="822" y="1050">Cluster 4<tspan font-weight="normal">:</tspan></text><text class="li" x="956" y="1050">Bdkrb1, Nmur1, S1pr4, P2ry13, Cxcr6, Ptger3, Npb</text>
</g>
</g>
</svg>
